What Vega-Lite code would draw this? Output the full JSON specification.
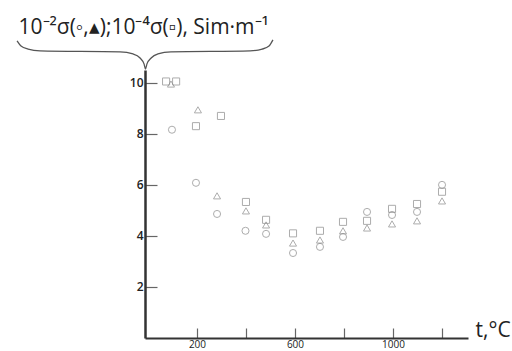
{
  "$schema": "https://vega.github.io/schema/vega-lite/v6.json",
  "width": 323,
  "height": 268,
  "autosize": {"type": "none"},
  "padding": {"left": 145, "top": 70, "right": 44, "bottom": 13},
  "background": "white",
  "config": {"view": {"stroke": null}, "font": "Open Sans"},
  "datasets": {
    "pts": [
      {"s": "circle", "t": 98, "v": 8.16},
      {"s": "circle", "t": 196, "v": 6.08},
      {"s": "circle", "t": 282, "v": 4.86},
      {"s": "circle", "t": 398, "v": 4.2},
      {"s": "circle", "t": 482, "v": 4.08},
      {"s": "circle", "t": 592, "v": 3.33},
      {"s": "circle", "t": 702, "v": 3.57},
      {"s": "circle", "t": 796, "v": 3.96},
      {"s": "circle", "t": 894, "v": 4.94},
      {"s": "circle", "t": 996, "v": 4.82},
      {"s": "circle", "t": 1098, "v": 4.94},
      {"s": "circle", "t": 1200, "v": 6.0},
      {"s": "triangle", "t": 94, "v": 9.95},
      {"s": "triangle", "t": 204, "v": 8.94},
      {"s": "triangle", "t": 282, "v": 5.57},
      {"s": "triangle", "t": 400, "v": 4.98},
      {"s": "triangle", "t": 482, "v": 4.43},
      {"s": "triangle", "t": 592, "v": 3.72},
      {"s": "triangle", "t": 702, "v": 3.84},
      {"s": "triangle", "t": 796, "v": 4.2},
      {"s": "triangle", "t": 894, "v": 4.31},
      {"s": "triangle", "t": 996, "v": 4.47},
      {"s": "triangle", "t": 1098, "v": 4.59},
      {"s": "triangle", "t": 1200, "v": 5.37},
      {"s": "square", "t": 74, "v": 10.05},
      {"s": "square", "t": 115, "v": 10.05},
      {"s": "square", "t": 196, "v": 8.3},
      {"s": "square", "t": 298, "v": 8.7},
      {"s": "square", "t": 400, "v": 5.33},
      {"s": "square", "t": 482, "v": 4.63},
      {"s": "square", "t": 592, "v": 4.1},
      {"s": "square", "t": 702, "v": 4.2},
      {"s": "square", "t": 796, "v": 4.55},
      {"s": "square", "t": 894, "v": 4.59},
      {"s": "square", "t": 996, "v": 5.06},
      {"s": "square", "t": 1098, "v": 5.25},
      {"s": "square", "t": 1200, "v": 5.73}
    ],
    "brace": [
      {"t": -534, "v": 11.64},
      {"t": -518, "v": 11.44},
      {"t": -489, "v": 11.32},
      {"t": -440, "v": 11.25},
      {"t": -114, "v": 11.21},
      {"t": -61, "v": 11.13},
      {"t": -32, "v": 10.97},
      {"t": -16, "v": 10.74},
      {"t": -10, "v": 10.54},
      {"t": -4, "v": 10.74},
      {"t": 13, "v": 10.97},
      {"t": 41, "v": 11.13},
      {"t": 94, "v": 11.21},
      {"t": 417, "v": 11.25},
      {"t": 466, "v": 11.32},
      {"t": 494, "v": 11.44},
      {"t": 510, "v": 11.68}
    ]
  },
  "encoding": {
    "x": {
      "field": "t",
      "type": "quantitative",
      "scale": {"domain": [-12, 1306], "nice": false, "zero": false},
      "axis": {
        "values": [200, 400, 600, 800, 1000, 1200],
        "format": "d",
        "labelExpr": "datum.value == 200 || datum.value == 600 || datum.value == 1000 ? datum.label : ''",
        "tickSize": -10,
        "tickColor": "#666",
        "tickWidth": 1.2,
        "labelPadding": 11,
        "labelFontSize": 10,
        "labelColor": "#222",
        "domainColor": "#333",
        "domainWidth": 2,
        "grid": false,
        "title": "t,°C",
        "titleX": 330,
        "titleY": -2,
        "titleAlign": "left",
        "titleBaseline": "alphabetic",
        "titleFontSize": 21,
        "titleFontWeight": "normal",
        "titleColor": "#222"
      }
    },
    "y": {
      "field": "v",
      "type": "quantitative",
      "scale": {"domain": [0, 10.5], "nice": false, "zero": false},
      "axis": {
        "values": [2, 4, 6, 8, 10],
        "tickSize": -12,
        "tickColor": "#666",
        "tickWidth": 1.2,
        "labelPadding": 14,
        "labelFontSize": 12,
        "labelFontWeight": 600,
        "labelColor": "#222",
        "domainColor": "#333",
        "domainWidth": 2.5,
        "grid": false,
        "title": "10⁻²σ(◦,▴);10⁻⁴σ(▫), Sim·m⁻¹",
        "titleAngle": 0,
        "titleX": -127,
        "titleY": -37,
        "titleAlign": "left",
        "titleBaseline": "alphabetic",
        "titleFontSize": 21,
        "titleFontWeight": "normal",
        "titleColor": "#222"
      }
    }
  },
  "layer": [
    {
      "data": {"name": "brace"},
      "mark": {"type": "line", "interpolate": "monotone", "color": "#555", "strokeWidth": 1.3, "clip": false}
    },
    {
      "data": {"name": "pts"},
      "mark": {"type": "point", "filled": false, "strokeWidth": 1, "size": 50, "color": "#8a8a8a"},
      "encoding": {
        "shape": {
          "field": "s",
          "type": "nominal",
          "scale": {"domain": ["circle", "triangle", "square"], "range": ["circle", "triangle-up", "square"]},
          "legend": null
        }
      }
    }
  ]
}
